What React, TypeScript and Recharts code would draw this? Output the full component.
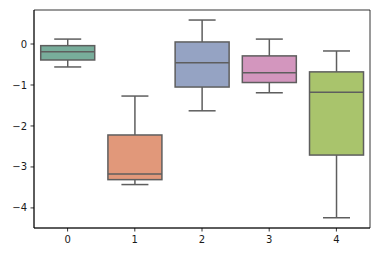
import React from 'react';
import { ComposedChart, Bar, XAxis, YAxis, Cell, ReferenceArea } from 'recharts';

const categories = ['0', '1', '2', '3', '4'];
const whiskerLow = [-0.56, -3.43, -1.63, -1.19, -4.24];
const q1 = [-0.39, -3.31, -1.05, -0.94, -2.71];
const median = [-0.19, -3.17, -0.46, -0.7, -1.18];
const q3 = [-0.04, -2.22, 0.05, -0.29, -0.68];
const whiskerHigh = [0.12, -1.27, 0.585, 0.12, -0.17];
const boxColors = ['#78ad9b', '#e1987a', '#95a3c3', '#d396be', '#a9c46c'];
const yTicks = [0, -1, -2, -3, -4];
const yDomain = [-4.49, 0.83];

const data = categories.map((c, i) => ({
  name: c,
  lo: whiskerLow[i],
  q1: q1[i],
  med: median[i],
  q3: q3[i],
  hi: whiskerHigh[i],
  range: [whiskerLow[i], whiskerHigh[i]],
  color: boxColors[i],
}));

const LINE = '#5e5e5e';

const BoxShape = (props: any) => {
  const { x, y, width, height, payload } = props;
  if (!payload) return null;
  const top = Math.min(y, y + height);
  const h = Math.abs(height);
  const { lo, hi } = payload;
  const py = (v: number) => top + ((hi - v) / (hi - lo)) * h;
  const cx = x + width / 2;
  const capHalf = width / 4;
  const yq1 = py(payload.q1);
  const yq3 = py(payload.q3);
  const ymed = py(payload.med);
  const ylo = py(lo);
  const yhi = py(hi);
  return (
    <g>
      <line x1={cx} x2={cx} y1={yq3} y2={yhi} stroke={LINE} strokeWidth={1.5} />
      <line x1={cx} x2={cx} y1={yq1} y2={ylo} stroke={LINE} strokeWidth={1.5} />
      <line x1={cx - capHalf} x2={cx + capHalf} y1={yhi} y2={yhi} stroke={LINE} strokeWidth={1.5} />
      <line x1={cx - capHalf} x2={cx + capHalf} y1={ylo} y2={ylo} stroke={LINE} strokeWidth={1.5} />
      <rect x={x} y={yq3} width={width} height={yq1 - yq3} fill={payload.color} stroke={LINE} strokeWidth={1.5} />
      <line x1={x} x2={x + width} y1={ymed} y2={ymed} stroke={LINE} strokeWidth={1.5} />
    </g>
  );
};

const tickStyle = { fontSize: 10, fill: '#1a1a1a', fontFamily: 'DejaVu Sans' };
const fmt = (v: number) => (v < 0 ? '\u2212' + Math.abs(v) : String(v));

export default function App() {
  return (
    <div>
      <style>{`body{margin:0}`}</style>
      <ComposedChart
        width={378}
        height={254}
        data={data}
        margin={{ top: 10, right: 8, bottom: 0, left: 0 }}
        barCategoryGap="10%"
      >
        <XAxis
          dataKey="name"
          height={26}
          tickSize={3.5}
          tickMargin={4}
          tick={tickStyle}
          tickLine={{ stroke: '#000', strokeWidth: 0.8 }}
          axisLine={{ stroke: '#000', strokeWidth: 0.8 }}
        />
        <YAxis
          width={34}
          domain={yDomain}
          ticks={yTicks}
          type="number"
          tickSize={3.5}
          tickMargin={3.5}
          tick={tickStyle}
          tickFormatter={fmt}
          allowDataOverflow
          tickLine={{ stroke: '#000', strokeWidth: 0.8 }}
          axisLine={{ stroke: '#000', strokeWidth: 0.8 }}
        />
        <Bar dataKey="range" isAnimationActive={false} shape={BoxShape}>
          {data.map((d, i) => (
            <Cell key={i} fill={d.color} />
          ))}
        </Bar>
        <ReferenceArea
          y1={yDomain[0]}
          y2={yDomain[1]}
          fill="none"
          fillOpacity={0}
          stroke="#000"
          strokeWidth={0.8}
          ifOverflow="visible"
        />
      </ComposedChart>
    </div>
  );
}
